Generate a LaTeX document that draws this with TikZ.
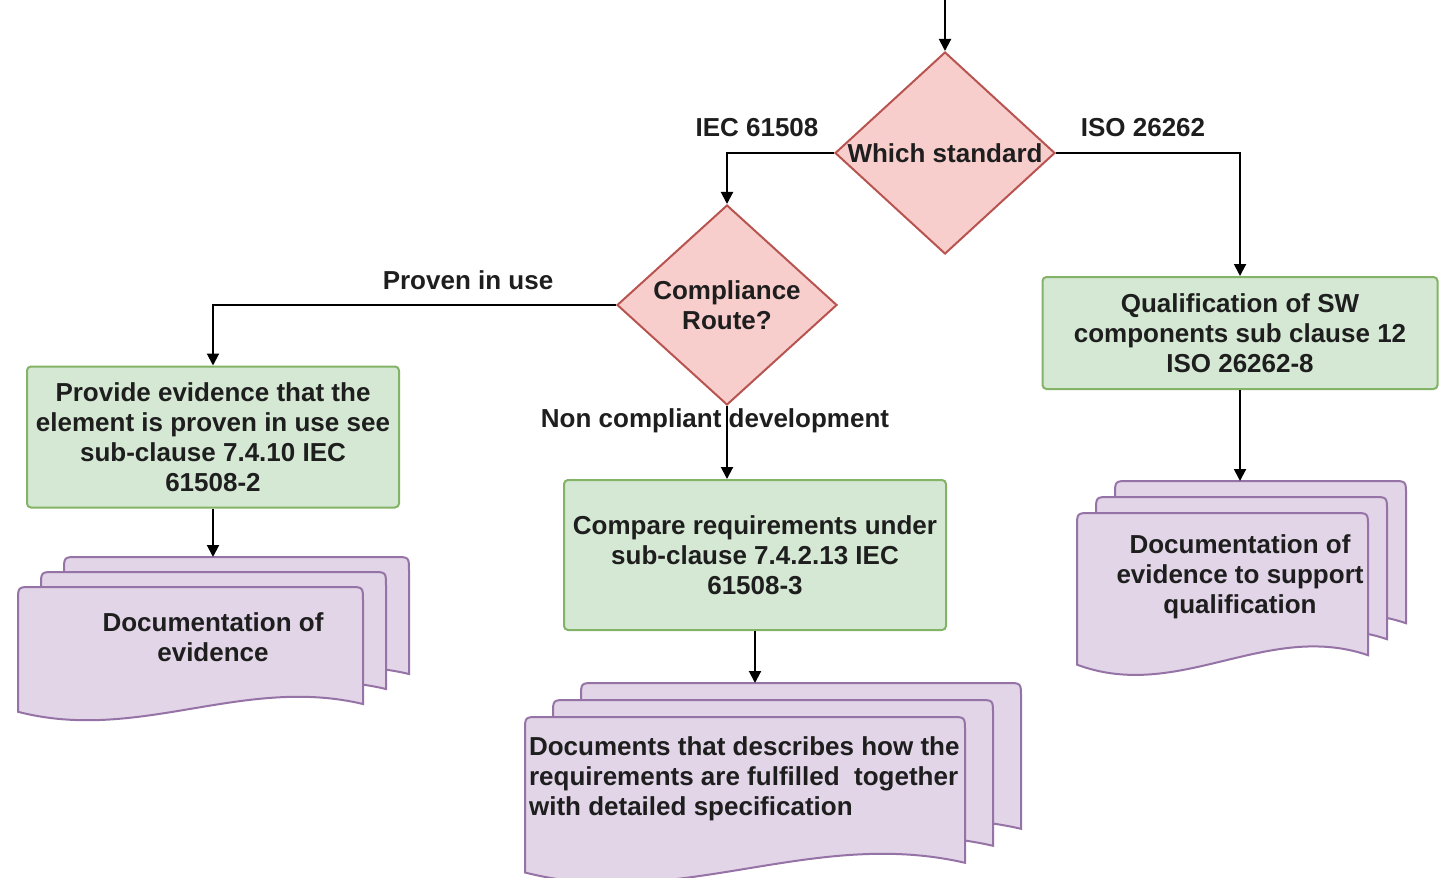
\documentclass[tikz,border=0pt]{standalone}
\usepackage{fontspec}
\setmainfont{Liberation Sans}
\usetikzlibrary{shapes.geometric,arrows.meta}
\definecolor{decfill}{HTML}{F8CECC}
\definecolor{decline}{HTML}{B85450}
\definecolor{procfill}{HTML}{D5E8D4}
\definecolor{procline}{HTML}{82B366}
\definecolor{docfill}{HTML}{E1D5E7}
\definecolor{docline}{HTML}{9673A6}
\definecolor{ink}{HTML}{1E1E1E}
\newcommand{\docsheet}[4]{%
  \draw[docpage] ({#1},{#2+0.96*#4}) -- ({#1},{#2+14})
    .. controls ({#1},{#2}) .. ({#1+14},{#2})
    -- ({#1+#3-14},{#2})
    .. controls ({#1+#3},{#2}) .. ({#1+#3},{#2+14})
    -- ({#1+#3},{#2+0.9*#4})
    .. controls ({#1+0.65*#3},{#2+0.68*#4}) and ({#1+0.35*#3},{#2+1.2*#4}) .. ({#1},{#2+0.96*#4}) -- cycle;}
\newcommand{\docstack}[6]{%
  \docsheet{#1+2*#5}{#2-2*#6}{#3}{#4}
  \docsheet{#1+#5}{#2-#6}{#3}{#4}
  \docsheet{#1}{#2}{#3}{#4}}
\begin{document}
\begin{tikzpicture}[x=0.5pt, y=-0.5pt,
  every node/.style = {font=\fontsize{13}{15}\selectfont\bfseries, text=ink},
  decision/.style = {shape=diamond, draw=decline, fill=decfill,
    line width=1pt, inner sep=0pt, minimum width=110pt, minimum height=101pt},
  process/.style = {shape=rectangle, rounded corners=2pt, draw=procline,
    fill=procfill, line width=1pt, align=center},
  docpage/.style = {draw=docline, fill=docfill, line width=1pt},
  flow/.style = {-{Triangle[length=6pt,width=6pt]}, line width=1pt}]
  \useasboundingbox (0,0) rectangle (1443,877);
  \coordinate (start) at (945,0);
  \node[decision, label={center:Which standard}] (which) at (945,153) {};
  \node[decision, minimum height=100pt,
    label={[align=center]center:Compliance\\Route?}] (route) at (727,305) {};
  \node[process, minimum width=186pt, minimum height=70.5pt] (evidence) at (213,437)
    {Provide evidence that the\\element is proven in use see\\sub-clause 7.4.10 IEC\\61508-2};
  \node[process, minimum width=191pt, minimum height=75pt] (compare) at (755,555)
    {Compare requirements under\\sub-clause 7.4.2.13 IEC\\61508-3};
  \node[process, minimum width=197.5pt, minimum height=56pt] (qualify) at (1240,333)
    {Qualification of SW\\components sub clause 12\\ISO 26262-8};
  \docstack{18}{587}{345}{130}{23}{15}
  \node[align=center] (doctxt1) at (213,637) {Documentation of\\evidence};
  \docstack{525}{717}{440}{162}{28}{17}
  \node[align=left, anchor=west] (doctxt2) at (522,779)
    {Documents that describes how the\\requirements are fulfilled\ \ together\\with detailed specification};
  \docstack{1077}{513}{291}{158}{19}{16}
  \node[align=center] (doctxt3) at (1240,577) {Documentation of\\evidence to support\\qualification};
  \coordinate (doc1) at (213,557);
  \coordinate (doc2) at (755,683);
  \coordinate (doc3) at (1240,481);
  \draw[flow] (start) -- (which.north);
  \draw[flow] (which.west) -| (route.north);
  \draw[flow] (which.east) -| (qualify.north);
  \draw[flow] (route.west) -| (evidence.north);
  \draw[flow] (route.south) -- (route.south |- compare.north);
  \draw[flow] (evidence.south) -- (doc1);
  \draw[flow] (compare.south) -- (doc2);
  \draw[flow] (qualify.south) -- (doc3);
  \node (iec) at (757,128) {IEC 61508};
  \node (iso) at (1143,128) {ISO 26262};
  \node (proven) at (468,280) {Proven in use};
  \node (noncomp) at (715,421) {Non compliant development};
\end{tikzpicture}
\end{document}
